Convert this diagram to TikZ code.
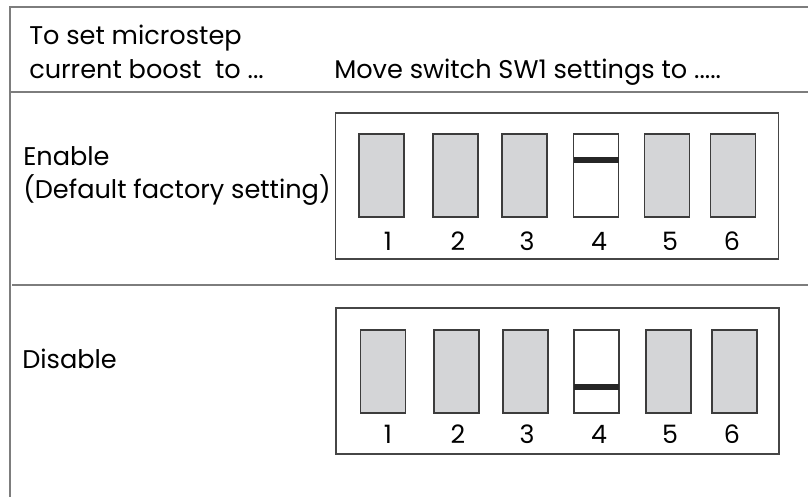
\documentclass[tikz,border=0pt]{standalone}
\usepackage{fontspec}
\setmainfont{Poppins}
\definecolor{rule}{RGB}{125,125,125}
\definecolor{boxline}{RGB}{70,70,70}
\definecolor{swgray}{RGB}{212,213,215}
\definecolor{swline}{RGB}{60,60,60}
\begin{document}
\begin{tikzpicture}[x=0.75pt,y=-0.75pt,
  rulel/.style={draw=rule,line width=1.2pt},
  panel/.style={draw=boxline,line width=1pt,inner sep=0pt,outer sep=0pt,minimum width=332.25pt,minimum height=109.5pt},
  swoff/.style={draw=swline,fill=swgray,line width=0.8pt,inner sep=0pt,outer sep=0pt,minimum width=33.75pt,minimum height=62.25pt},
  swon/.style={swoff,fill=white},
  lever/.style={fill=black!85,inner sep=0pt,outer sep=0pt,minimum width=33.75pt,minimum height=4.5pt},
  txt/.style={font=\fontsize{19.2}{21}\selectfont,inner sep=0pt,anchor=base west},
  num/.style={font=\fontsize{19}{21}\selectfont,inner sep=0pt,anchor=base}]
\useasboundingbox (0,0) rectangle (808,497);
% frame lines
\coordinate (tl) at (10,7);
\coordinate (tr) at (808,7);
\coordinate (bl) at (10,497);
\coordinate (d1l) at (10,92);
\coordinate (d1r) at (808,92);
\coordinate (d2l) at (12,285);
\coordinate (d2r) at (808,285);
\draw[rulel] (tr) -- (tl) -- (bl);
\draw[rulel] (d1l) -- (d1r);
\draw[rulel] (d2l) -- (d2r);
% header
\node[txt] (h1) at (29,44) {To set microstep};
\node[txt] (h2) at (29,78) {current boost\ \ to ...};
\node[txt] (h3) at (334,78) {Move switch SW1 settings to .....};
% row labels
\node[txt] (en) at (23,165) {Enable};
\node[txt] (def) at (23,198) {(Default factory setting)};
\node[txt] (dis) at (22,368) {Disable};
% panels
\node[panel] (p1) at (557,186) {};
\node[panel] (p2) at (557.5,381) {};
% enable switches
\node[swoff] (a1) at (381.5,175.5) {};
\node[swoff] (a2) at (455.5,175.5) {};
\node[swoff] (a3) at (524.5,175.5) {};
\node[swon]  (a4) at (596,175.5) {};
\node[swoff] (a5) at (667,175.5) {};
\node[swoff] (a6) at (733,175.5) {};
\node[lever] (ab) at (596,160) {};
\node[num] (an1) at (388,250) {1};
\node[num] (an2) at (458,250) {2};
\node[num] (an3) at (527,250) {3};
\node[num] (an4) at (599,250) {4};
\node[num] (an5) at (670,250) {5};
\node[num] (an6) at (732,250) {6};
% disable switches
\node[swoff] (b1) at (383,371.5) {};
\node[swoff] (b2) at (456.5,371.5) {};
\node[swoff] (b3) at (525.5,371.5) {};
\node[swon]  (b4) at (596.5,371.5) {};
\node[swoff] (b5) at (668.5,371.5) {};
\node[swoff] (b6) at (734.5,371.5) {};
\node[lever] (bb) at (596.5,387) {};
\node[num] (bn1) at (388,443) {1};
\node[num] (bn2) at (458,443) {2};
\node[num] (bn3) at (527,443) {3};
\node[num] (bn4) at (599,443) {4};
\node[num] (bn5) at (670,443) {5};
\node[num] (bn6) at (732,443) {6};
\end{tikzpicture}
\end{document}
